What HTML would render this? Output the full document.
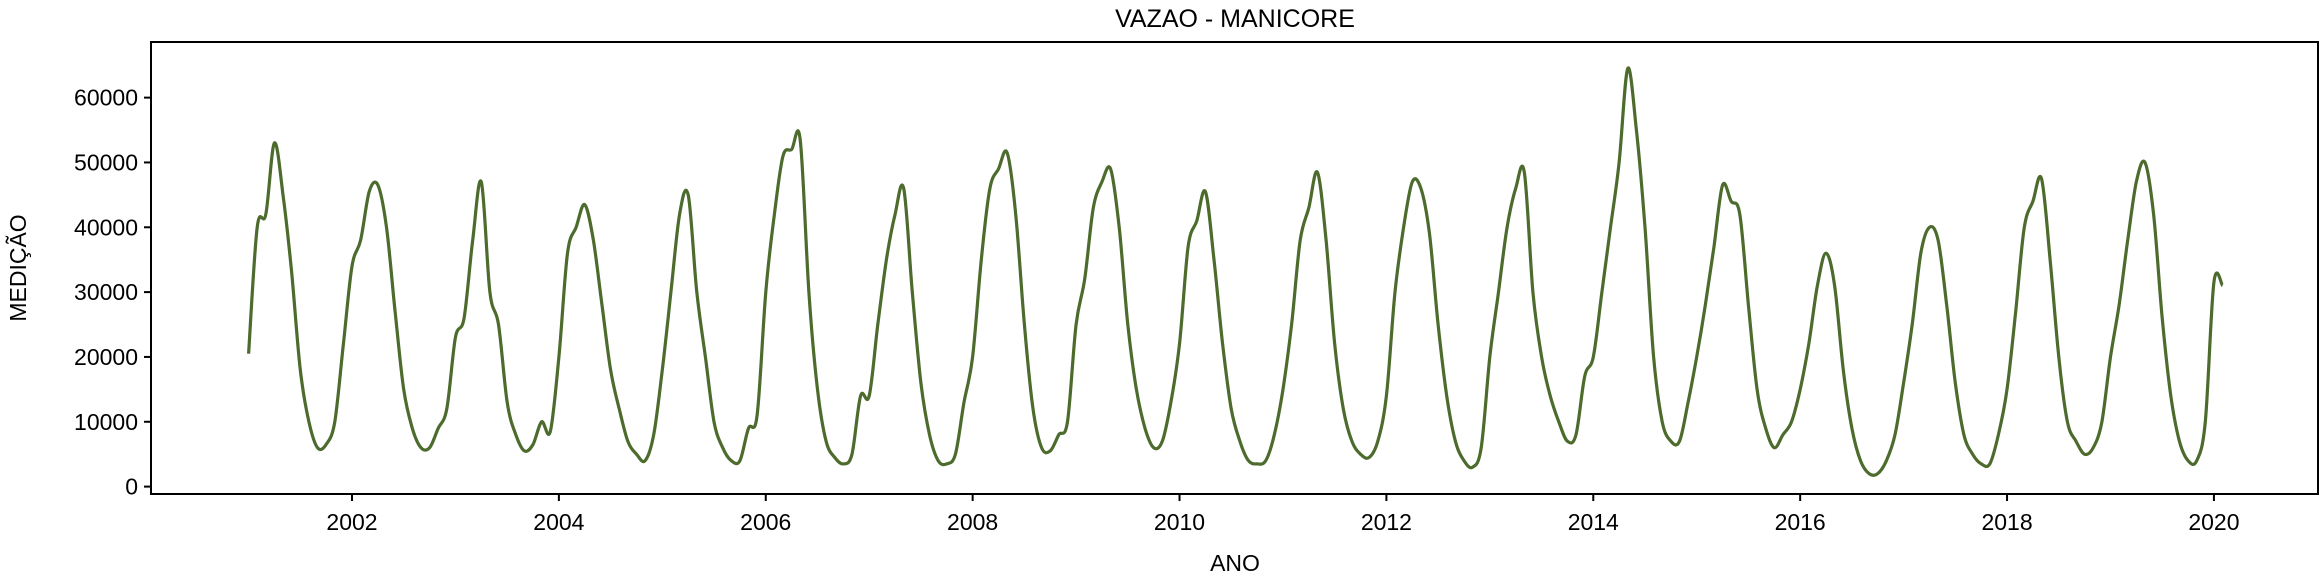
<!DOCTYPE html>
<html><head><meta charset="utf-8"><style>body{margin:0;background:#fff}svg{display:block;font-family:"Liberation Sans","DejaVu Sans",sans-serif}</style></head>
<body>
<svg id="chart" width="2320" height="582" viewBox="0 0 2320 582" xmlns="http://www.w3.org/2000/svg">
<text x="1235" y="27" font-size="25" text-anchor="middle">VAZAO - MANICORE</text>
<g id="yt"></g>
<g id="xt"></g>
<path id="line" fill="none" stroke="#4c6b2d" stroke-width="3.2" stroke-linejoin="round"/>
<rect x="151" y="42" width="2167" height="452" fill="none" stroke="#000" stroke-width="2"/>
<text x="1235" y="571" font-size="23" text-anchor="middle">ANO</text>
<text transform="translate(26,268) rotate(-90)" font-size="23" text-anchor="middle">MEDIÇÃO</text>
</svg>
<script>
const years=[2001,2002,2003,2004,2005,2006,2007,2008,2009,2010,2011,2012,2013,2014,2015,2016,2017,2018,2019,2020];
const monthly=[
[20500,40000,42000,53000,45000,33000,18000,10000,6000,6500,10000,22000],
[34000,38000,45500,46500,40000,27000,15000,9000,6000,6000,9000,12000],
[23000,26000,38000,47000,30000,25000,13000,8000,5500,6500,10000,8500],
[20000,36000,40000,43500,38000,28000,18000,12000,7000,5000,4000,8000],
[18000,30000,42000,45000,30000,20000,10000,6000,4000,4000,9000,11000],
[30000,42000,51000,52000,53500,30000,15000,7000,4500,3500,5000,14000],
[14000,25000,35000,42000,46000,30000,16000,8000,4000,3500,5000,13000],
[20000,35000,46000,49000,51500,42000,25000,12000,6000,5500,8000,10000],
[25000,32000,43000,47000,49000,40000,25000,15000,9000,6000,7000,13000],
[22000,37000,41000,45500,35000,22000,12000,7000,4000,3500,4000,8000],
[15000,25000,38000,43000,48500,38000,22000,12000,7000,5000,4500,7000],
[14000,30000,40000,47000,46000,39000,25000,14000,7000,4000,3000,6000],
[20000,30000,40000,46000,48500,30000,20000,14000,10000,7000,8000,17000],
[20000,30000,40000,50000,64500,55000,40000,20000,10000,7000,7000,13000],
[20000,28000,37000,46500,44000,42000,28000,15000,9000,6000,8000,10000],
[15000,22000,31000,36000,31000,18000,9000,4000,2000,2000,4000,8000],
[16000,25000,36000,40000,38000,28000,16000,8000,5000,3500,3500,8000],
[15000,27000,40000,44000,47500,35000,20000,10000,7000,5000,6000,10000],
[20000,28000,38000,47000,50000,42000,26000,14000,7000,4000,4000,10000],
[31500,31000]
];
const yTicks=[0,10000,20000,30000,40000,50000,60000];
const xTicks=[2002,2004,2006,2008,2010,2012,2014,2016,2018,2020];
const NS="http://www.w3.org/2000/svg";
const X=t=>352+(t-2002)*103.44;
const Y=v=>486.6-v*0.006483;
const pts=[];
years.forEach((yr,i)=>monthly[i].forEach((v,m)=>pts.push([X(yr+m/12),Y(v)])));
let d="M"+pts[0][0].toFixed(1)+","+pts[0][1].toFixed(1);
for(let i=0;i<pts.length-1;i++){
 const p0=pts[Math.max(0,i-1)],p1=pts[i],p2=pts[i+1],p3=pts[Math.min(pts.length-1,i+2)];
 const c1=[p1[0]+(p2[0]-p0[0])/6,p1[1]+(p2[1]-p0[1])/6];
 const c2=[p2[0]-(p3[0]-p1[0])/6,p2[1]-(p3[1]-p1[1])/6];
 d+="C"+c1[0].toFixed(1)+","+c1[1].toFixed(1)+" "+c2[0].toFixed(1)+","+c2[1].toFixed(1)+" "+p2[0].toFixed(1)+","+p2[1].toFixed(1);
}
document.getElementById('line').setAttribute('d',d);
const yt=document.getElementById('yt'),xt=document.getElementById('xt');
yTicks.forEach(v=>{
 const l=document.createElementNS(NS,'line');
 
 
 l.setAttribute('x1',144);l.setAttribute('x2',151);l.setAttribute('y1',Y(v));l.setAttribute('y2',Y(v));l.setAttribute('stroke','#000');l.setAttribute('stroke-width',2);yt.appendChild(l);
 const t=document.createElementNS(NS,'text');
 
 
 t.setAttribute('x',138);t.setAttribute('y',Y(v)+8);t.setAttribute('font-size',23);t.setAttribute('text-anchor','end');t.textContent=v;yt.appendChild(t);
});
xTicks.forEach(v=>{
 const l=document.createElementNS(NS,'line');
 
 
 l.setAttribute('x1',X(v));l.setAttribute('x2',X(v));l.setAttribute('y1',494);l.setAttribute('y2',501);l.setAttribute('stroke','#000');l.setAttribute('stroke-width',2);xt.appendChild(l);
 const t=document.createElementNS(NS,'text');
 
 
 t.setAttribute('x',X(v));t.setAttribute('y',530);t.setAttribute('font-size',23);t.setAttribute('text-anchor','middle');t.textContent=v;xt.appendChild(t);
});
</script>
</body></html>
